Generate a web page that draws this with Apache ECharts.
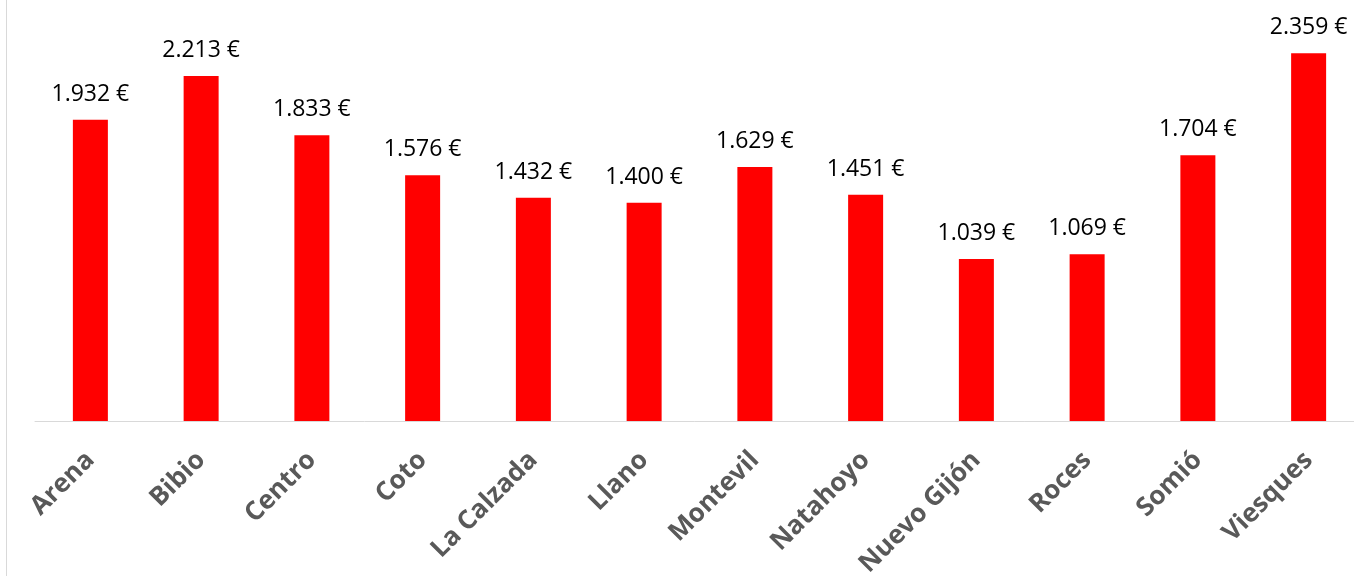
<!DOCTYPE html>
<html>
<head>
<meta charset="utf-8">
<script src="https://cdn.jsdelivr.net/npm/echarts@6/dist/echarts.min.js"></script>
<style>
  html, body { margin: 0; padding: 0; background: #fff; }
  #container { width: 1354px; height: 576px; }
</style>
</head>
<body>
<div id="container"></div>
<script>
var barrios = ['Arena', 'Bibio', 'Centro', 'Coto', 'La Calzada', 'Llano', 'Montevil', 'Natahoyo', 'Nuevo Gijón', 'Roces', 'Somió', 'Viesques'];
var importes = [1932, 2213, 1833, 1576, 1432, 1400, 1629, 1451, 1039, 1069, 1704, 2359];

// formato español: 1.932 €
function euros(v) {
	return String(v).replace(/\B(?=(\d{3})+(?!\d))/g, '.') + ' €';
}

window.onload = function () {
	var myChart = echarts.init(document.getElementById('container'));
	myChart.setOption({
		animation: false,
		grid: { left: 35, top: 0, width: 1329, height: 421, outerBoundsMode: 'none', containLabel: false },
		graphic: [{
			type: 'line',
			shape: { x1: 6.5, y1: 0, x2: 6.5, y2: 576 },
			style: { stroke: '#d9d9d9', lineWidth: 1 }
		}],
		xAxis: {
			type: 'category',
			data: barrios,
			axisLine: { lineStyle: { color: '#d9d9d9', width: 1 } },
			axisTick: { show: false },
			axisLabel: {
				rotate: 45,
				interval: 0,
				margin: 35,
				color: '#595959',
				fontFamily: 'Open Sans',
				fontWeight: 'bold',
				fontSize: 26
			}
		},
		yAxis: {
			type: 'value',
			min: 0,
			max: 2700,
			show: false,
			splitLine: { show: false }
		},
		series: [{
			type: 'bar',
			data: importes,
			barWidth: 35,
			itemStyle: { color: '#ff0000' },
			label: {
				show: true,
				position: 'top',
				distance: 14,
				color: '#000',
				fontFamily: 'Open Sans',
				fontSize: 23,
				formatter: function (p) { return euros(p.value); }
			}
		}]
	});
};
</script>
</body>
</html>
